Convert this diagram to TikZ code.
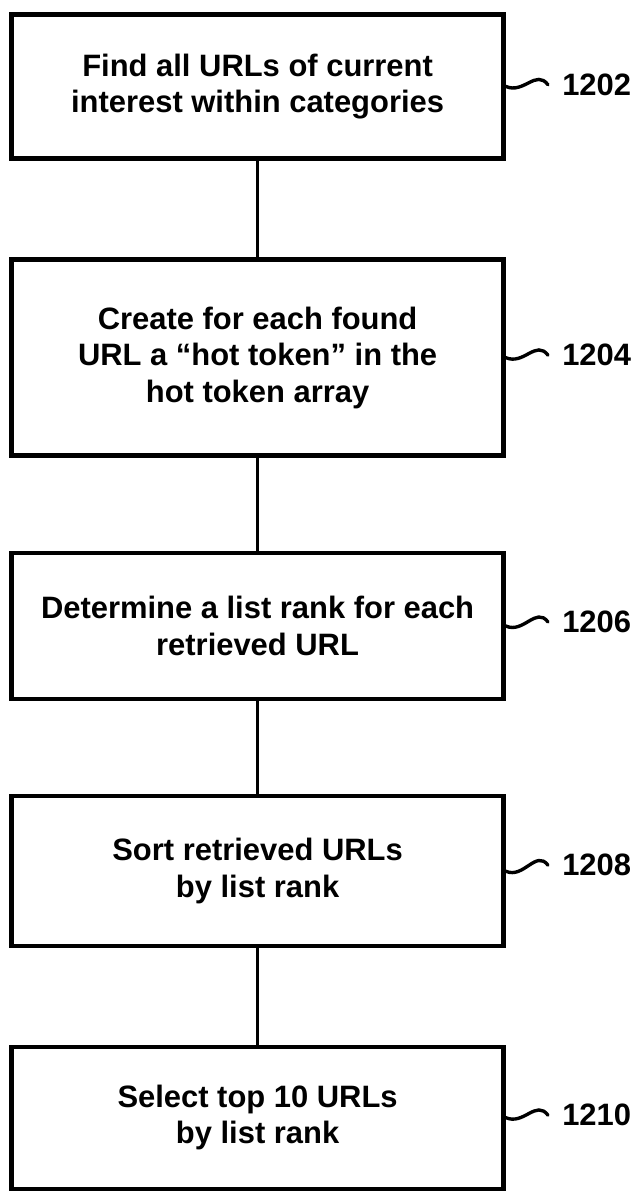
\documentclass[tikz,border=0pt]{standalone}
\usepackage{fontspec}
\setmainfont{Liberation Sans}
\usepackage{tikz}
\tikzset{
	stepbox/.style={draw, line width=3pt, minimum width=12.3cm, align=center, font=\fontsize{22}{26}\selectfont\bfseries},
	reflabel/.style={anchor=west, inner sep=0.35cm, font=\fontsize{22}{26}\selectfont\bfseries},
	lead/.style={line width=2.4pt, line cap=round}
}

\begin{document}
\begin{tikzpicture}
								\useasboundingbox (0, 0) rectangle (16.05, -29.825);
								\node[stepbox, minimum height=3.6cm] (b1) at (6.44, -2.16) {Find all URLs of current\\interest within categories};
								\node[stepbox, minimum height=4.9cm] (b2) at (6.44, -8.94) {Create for each found\\URL a “hot token” in the\\hot token array};
								\node[stepbox, minimum height=3.65cm] (b3) at (6.44, -15.65) {Determine a list rank for each\\retrieved URL};
								\node[stepbox, minimum height=3.75cm] (b4) at (6.44, -21.78) {Sort retrieved URLs\\by list rank};
								\node[stepbox, minimum height=3.55cm] (b5) at (6.44, -27.94) {Select top 10 URLs\\by list rank};
								\node[reflabel] (r1) at (13.7, -2.12) {1202};
								\node[reflabel] (r2) at (13.7, -8.88) {1204};
								\node[reflabel] (r3) at (13.7, -15.55) {1206};
								\node[reflabel] (r4) at (13.7, -21.63) {1208};
								\node[reflabel] (r5) at (13.7, -27.88) {1210};
								\foreach \x/\y in {1/2,2/3,3/4,4/5}
									\draw[line width=2.6pt] (b\x) -- (b\y);
								\foreach \x in {1,...,5}
									\draw[lead] (b\x.east) .. controls +(0.45,-0.2) and +(-0.3,0.4) .. (r\x.west);
							\end{tikzpicture}
\end{document}
